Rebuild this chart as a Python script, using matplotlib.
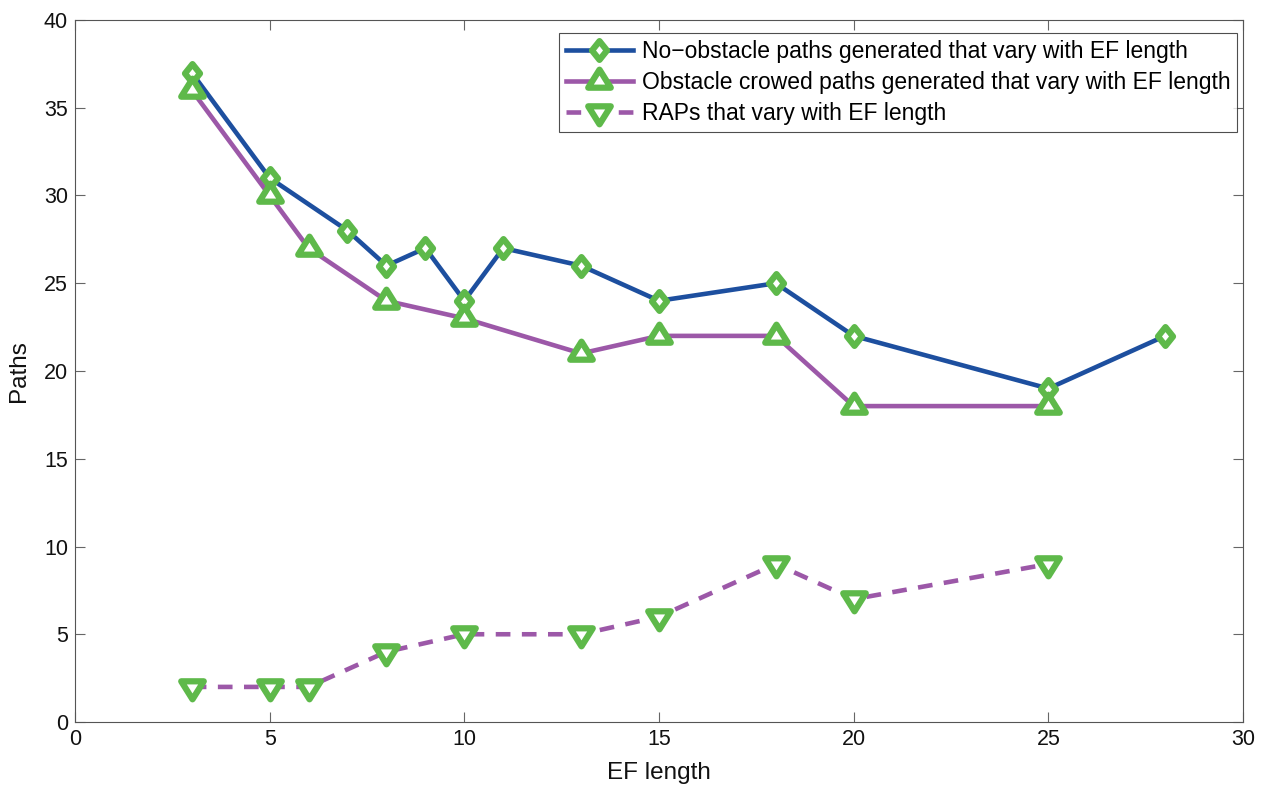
import matplotlib
matplotlib.use("Agg")
import matplotlib.pyplot as plt
from matplotlib.path import Path

plt.rcParams['font.family'] = ['Liberation Sans', 'DejaVu Sans']

x_no = [3, 5, 7, 8, 9, 10, 11, 13, 15, 18, 20, 25, 28]
y_no = [37, 31, 28, 26, 27, 24, 27, 26, 24, 25, 22, 19, 22]
x_ob = [3, 5, 6, 8, 10, 13, 15, 18, 20, 25]
y_ob = [36, 30, 27, 24, 23, 21, 22, 22, 18, 18]
x_rap = [3, 5, 6, 8, 10, 13, 15, 18, 20, 25]
y_rap = [2, 2, 2, 4, 5, 5, 6, 9, 7, 9]
labels = ["No\u2212obstacle paths generated that vary with EF length",
          "Obstacle crowed paths generated that vary with EF length",
          "RAPs that vary with EF length"]

blue = '#1d4f9f'
purple = '#9c58a8'
green = '#5eb94a'

diamond = Path([(0, 8.5), (6.8, 0), (0, -8.5), (-6.8, 0), (0, 8.5)],
               [Path.MOVETO, Path.LINETO, Path.LINETO, Path.LINETO, Path.CLOSEPOLY])
tri_up = Path([(0, 1.1), (1.05, -0.577), (-1.05, -0.577), (0, 1.1)],
              [Path.MOVETO, Path.LINETO, Path.LINETO, Path.CLOSEPOLY])
tri_dn = Path([(0, -1.1), (1.05, 0.577), (-1.05, 0.577), (0, -1.1)],
              [Path.MOVETO, Path.LINETO, Path.LINETO, Path.CLOSEPOLY])

fig = plt.figure(figsize=(12.68, 7.86), dpi=100)
ax = fig.add_axes([0.0591, 0.0814, 0.9212, 0.8932])

ax.plot(x_no, y_no, color=blue, lw=3.3, marker=diamond, ms=13.5, mfc='white',
        mec=green, mew=4.5, label=labels[0])
ax.plot(x_ob, y_ob, color=purple, lw=3.3, marker=tri_up, ms=17, mfc='white',
        mec=green, mew=4.5, label=labels[1])
ax.plot(x_rap, y_rap, color=purple, lw=3.3, ls=(0, (3.2, 2.5)), marker=tri_dn,
        ms=17, mfc='white', mec=green, mew=4.5, label=labels[2])

ax.set_xlim(0, 30)
ax.set_ylim(0, 40)
ax.set_xticks(range(0, 31, 5))
ax.set_yticks(range(0, 41, 5))
ax.tick_params(direction='in', top=True, right=True, labelsize=15.5, length=7,
               width=0.8, colors='#666666', labelcolor='#111111', pad=5)
for s in ax.spines.values():
    s.set_color('#555555')
    s.set_linewidth(0.8)
ax.set_xlabel("EF length", fontsize=17.5, labelpad=9, color='#111111')
ax.set_ylabel("Paths", fontsize=17.5, labelpad=10, color='#111111')

leg = ax.legend(loc='upper right', bbox_to_anchor=(0.995, 0.981), fontsize=16.5,
                frameon=True, fancybox=False, edgecolor='#222222',
                handlelength=2.9, borderpad=0.3, labelspacing=0.34,
                handletextpad=0.4, borderaxespad=0.0)
leg.get_frame().set_linewidth(0.8)

fig.savefig("out.png", dpi=100)
